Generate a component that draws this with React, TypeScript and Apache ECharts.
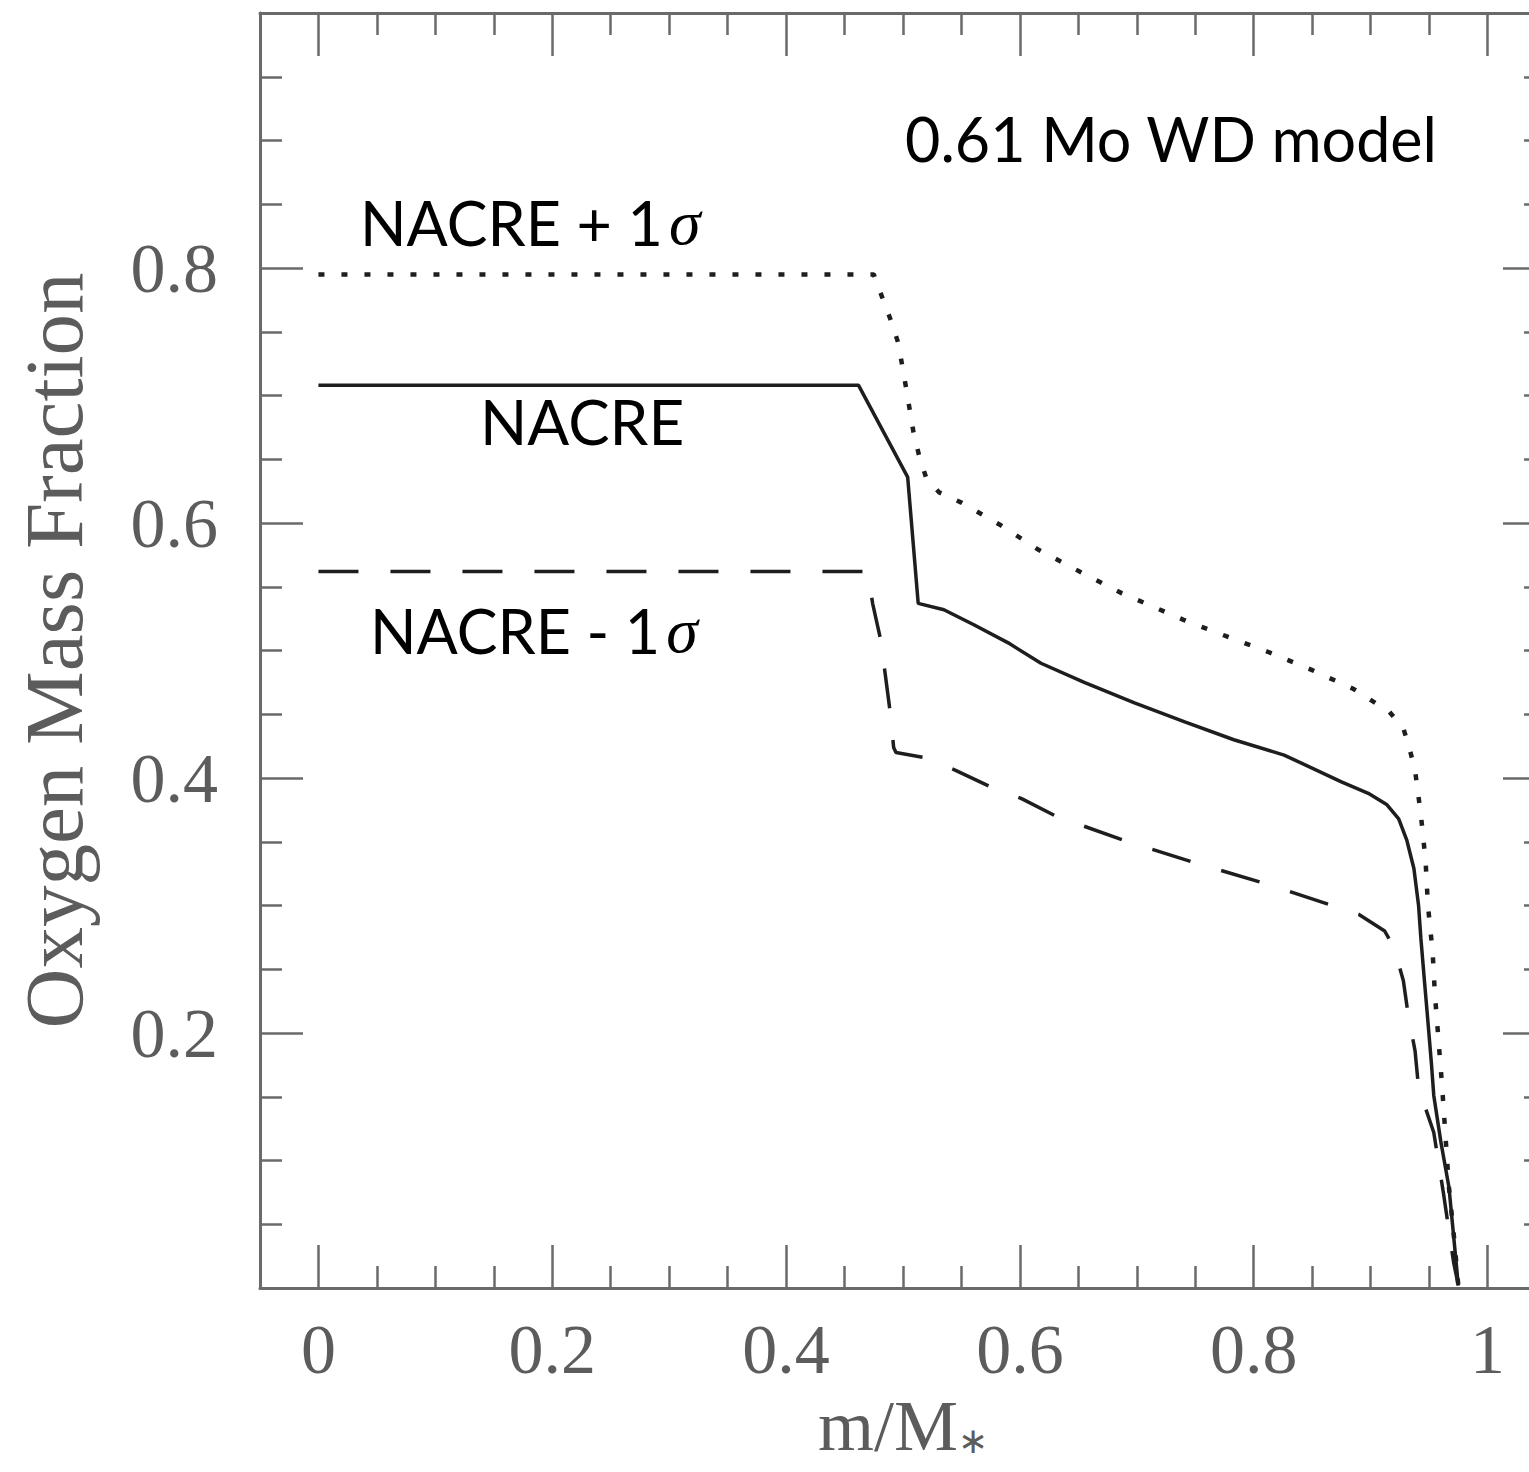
import React, { useEffect, useRef } from "react";
import * as echarts from "echarts";

// ---- data ----
const nacrePlus: [number, number][] = [
  [0, 0.795], [0.475, 0.795], [0.483, 0.775], [0.49, 0.758], [0.496, 0.741],
  [0.503, 0.704], [0.509, 0.671], [0.514, 0.652], [0.52, 0.635], [0.531, 0.624],
  [0.55, 0.616], [0.584, 0.598], [0.616, 0.579], [0.651, 0.562], [0.687, 0.545],
  [0.74, 0.524], [0.777, 0.511], [0.812, 0.499], [0.849, 0.485], [0.885, 0.47],
  [0.916, 0.452], [0.928, 0.439], [0.933, 0.424], [0.938, 0.406], [0.943, 0.371],
  [0.947, 0.335], [0.949, 0.3], [0.953, 0.264], [0.955, 0.23], [0.958, 0.195],
  [0.961, 0.16], [0.963, 0.133], [0.967, 0.079], [0.971, 0.043], [0.975, 0.002],
];

const nacre: [number, number][] = [
  [0, 0.708], [0.462, 0.708], [0.504, 0.636], [0.513, 0.537], [0.535, 0.532],
  [0.561, 0.52], [0.59, 0.506], [0.618, 0.49], [0.655, 0.475], [0.698, 0.459],
  [0.741, 0.444], [0.783, 0.43], [0.826, 0.418], [0.875, 0.397], [0.898, 0.388],
  [0.914, 0.379], [0.924, 0.368], [0.931, 0.351], [0.937, 0.329], [0.941, 0.3],
  [0.943, 0.274], [0.946, 0.241], [0.949, 0.209], [0.952, 0.176], [0.954, 0.151],
  [0.96, 0.115], [0.967, 0.079], [0.972, 0.031], [0.975, 0.002],
];

const nacreMinus: [number, number][] = [
  [0, 0.562], [0.47, 0.562], [0.474, 0.537], [0.481, 0.508], [0.489, 0.452],
  [0.492, 0.424], [0.494, 0.42], [0.518, 0.416], [0.545, 0.406], [0.575, 0.393],
  [0.601, 0.384], [0.631, 0.37], [0.689, 0.351], [0.748, 0.334], [0.807, 0.318],
  [0.864, 0.301], [0.89, 0.293], [0.912, 0.28], [0.92, 0.267], [0.928, 0.241],
  [0.932, 0.215], [0.938, 0.186], [0.941, 0.157], [0.954, 0.122], [0.962, 0.076],
  [0.971, 0.02], [0.975, 0.002],
];

const xMajorTicks = [0, 0.2, 0.4, 0.6, 0.8, 1];
const xMinorTicks = [0.05, 0.1, 0.15, 0.25, 0.3, 0.35, 0.45, 0.5, 0.55, 0.65, 0.7, 0.75, 0.85, 0.9, 0.95];
const yMajorTicks = [0.2, 0.4, 0.6, 0.8];
const yMinorTicks = [0.05, 0.1, 0.15, 0.25, 0.3, 0.35, 0.45, 0.5, 0.55, 0.65, 0.7, 0.75, 0.85, 0.9, 0.95];

const xLabel = "m/M";
const yLabel = "Oxygen Mass Fraction";
const titleText = "0.61 Mo WD model";
const labelPlus = "NACRE + 1";
const labelNacre = "NACRE";
const labelMinus = "NACRE - 1";

const AXIS_COLOR = "#6a6a6a";
const LABEL_COLOR = "#5c5c5c";
const LINE_COLOR = "#1e1e1e";
const TICK_FONT = "'Liberation Serif', serif";
const ANNOT_FONT = "Lato, 'Open Sans', sans-serif";

export default function App() {
  const ref = useRef<HTMLDivElement>(null);

  useEffect(() => {
    if (!ref.current) return;
    const chart = echarts.init(ref.current, undefined, { renderer: "svg" });

    const tickStyle = { color: AXIS_COLOR, width: 2.5 };
    const lineStyle = { color: AXIS_COLOR, width: 3 };
    const labelStyle = {
      color: LABEL_COLOR,
      fontFamily: TICK_FONT,
      fontSize: 70,
    };

    const mkX = (position: "top" | "bottom", ticks: number[], len: number, major: boolean, withLabel: boolean, name?: any) => ({
      type: "value",
      position,
      min: -0.05,
      max: 1.05,
      axisLine: { show: major, onZero: false, lineStyle },
      axisTick: { show: true, inside: true, length: len, customValues: ticks, lineStyle: tickStyle },
      axisLabel: withLabel
        ? { show: true, customValues: ticks, margin: 26, ...labelStyle, formatter: (v: number) => String(+v.toFixed(2)) }
        : { show: false },
      splitLine: { show: false },
      ...(name || {}),
    });

    const mkY = (position: "left" | "right", ticks: number[], len: number, major: boolean, withLabel: boolean, name?: any) => ({
      type: "value",
      position,
      min: 0,
      max: 1,
      axisLine: { show: major, onZero: false, lineStyle },
      axisTick: { show: true, inside: true, length: len, customValues: ticks, lineStyle: tickStyle },
      axisLabel: withLabel
        ? { show: true, customValues: ticks, margin: 42, ...labelStyle, formatter: (v: number) => String(+v.toFixed(2)) }
        : { show: false },
      splitLine: { show: false },
      ...(name || {}),
    });

    const sigmaRich = {
      a: { fontFamily: ANNOT_FONT, fontSize: 61, color: "#000" },
      s: { fontFamily: "'Liberation Serif', serif", fontStyle: "italic", fontSize: 64, color: "#000", padding: [0, 0, 0, 6] },
    };

    chart.setOption({
      animation: false,
      backgroundColor: "#fff",
      grid: { left: 260, top: 13, width: 1286, height: 1275 },
      xAxis: [
        mkX("bottom", xMajorTicks, 43, true, true, {
          name: `{a|${xLabel}}{b|∗}`,
          nameLocation: "middle",
          nameGap: 102,
          nameTextStyle: {
            rich: {
              a: { fontFamily: TICK_FONT, fontSize: 72, color: LABEL_COLOR },
              b: { fontFamily: TICK_FONT, fontSize: 36, color: LABEL_COLOR, padding: [30, 0, 0, 0] },
            },
          },
        }),
        mkX("bottom", xMinorTicks, 22, false, false),
        mkX("top", xMajorTicks, 43, true, false),
        mkX("top", xMinorTicks, 22, false, false),
      ],
      yAxis: [
        mkY("left", yMajorTicks, 43, true, true, {
          name: yLabel,
          nameLocation: "middle",
          nameGap: 165,
          nameRotate: 90,
          nameTextStyle: { fontFamily: TICK_FONT, fontSize: 83, color: LABEL_COLOR },
        }),
        mkY("left", yMinorTicks, 22, false, false),
        mkY("right", yMajorTicks, 43, true, false),
        mkY("right", yMinorTicks, 22, false, false),
      ],
      series: [
        {
          name: "NACRE + 1σ",
          type: "line",
          data: nacrePlus,
          showSymbol: false,
          lineStyle: { color: LINE_COLOR, width: 4.5, type: [6, 17], cap: "butt" },
        },
        {
          name: "NACRE",
          type: "line",
          data: nacre,
          showSymbol: false,
          lineStyle: { color: LINE_COLOR, width: 3.5, type: "solid" },
        },
        {
          name: "NACRE - 1σ",
          type: "line",
          data: nacreMinus,
          showSymbol: false,
          lineStyle: { color: LINE_COLOR, width: 3.5, type: [40, 32] },
        },
      ],
      graphic: [
        {
          type: "text",
          left: 905,
          top: 108,
          style: { text: titleText, fontFamily: ANNOT_FONT, fontSize: 61, fill: "#000" },
        },
        {
          type: "text",
          left: 360,
          top: 190,
          style: { text: `{a|${labelPlus}}{s|σ}`, rich: sigmaRich },
        },
        {
          type: "text",
          left: 480,
          top: 390,
          style: { text: labelNacre, fontFamily: ANNOT_FONT, fontSize: 62, fill: "#000" },
        },
        {
          type: "text",
          left: 370,
          top: 598,
          style: { text: `{a|${labelMinus}}{s|σ}`, rich: sigmaRich },
        },
      ],
    });

    return () => chart.dispose();
  }, []);

  return (
    <div style={{ position: "absolute", left: 0, top: 0, width: 1529, height: 1472, overflow: "hidden", background: "#fff" }}>
      <div ref={ref} style={{ width: 1570, height: 1472 }} />
    </div>
  );
}
